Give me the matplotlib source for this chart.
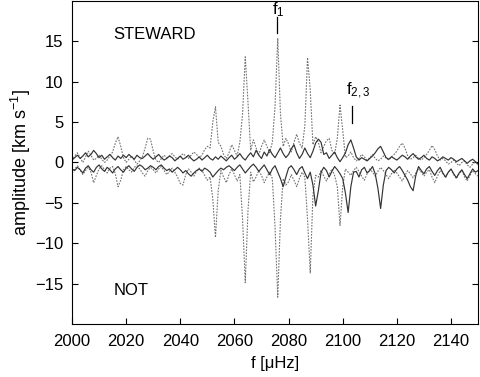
import numpy as np
import matplotlib
matplotlib.use("Agg")
import matplotlib.pyplot as plt

plt.rcParams["font.family"] = ["Liberation Sans", "DejaVu Sans"]
plt.rcParams["mathtext.default"] = "regular"

# frequency grid [uHz], 1 uHz steps
freq = np.arange(2000, 2151)

# STEWARD spectrum (solid, positive side)
steward_solid = [
    0.3, 0.6, 0.9, 0.5, 0.8, 1.2, 0.7, 1.0, 1.5, 1.1,
    0.6, 0.9, 0.4, 0.7, 1.0, 0.6, 0.3, 0.8, 0.5, 0.9,
    0.6, 1.0, 0.7, 0.4, 0.9, 0.6, 0.5, 0.8, 1.1, 0.7,
    0.4, 0.7, 1.0, 0.6, 0.3, 0.5, 0.8, 0.6, 0.2, 0.5,
    0.8, 0.4, 0.6, 0.9, 0.5, 0.2, 0.4, 0.7, 0.3, 0.6,
    0.9, 0.5, 0.3, 0.7, 0.4, 0.8, 0.5, 0.2, 0.6, 0.9,
    0.4, 0.7, 1.1, 0.6, 0.3, 0.8, 1.2, 0.7, 1.5, 0.9,
    0.5, 1.3, 0.8, 1.6, 1.0, 0.6, 1.2, 1.8, 1.1, 0.6,
    1.0, 1.7, 2.2, 1.2, 0.5, 1.0, 1.8, 1.1, 0.6, 1.4,
    2.4, 2.9, 2.5, 1.0, 1.2, 0.5, 0.9, 1.3, 0.6, 0.1,
    0.6, 1.2, 2.2, 2.8, 1.8, 0.7, 0.3, 0.6, 0.4, 0.2,
    0.5, 0.8, 1.2, 1.7, 2.0, 1.3, 0.6, 0.4, 0.7, 0.5,
    0.3, 0.6, 0.9, 0.7, 0.4, 0.8, 1.1, 0.7, 0.4, 0.6,
    0.9, 0.5, 0.3, 0.7, 0.5, 0.2, 0.4, 0.7, 0.5, 0.3,
    0.6, 0.4, 0.1, 0.3, 0.5, 0.2, -0.1, 0.2, 0.4, 0.1,
    -0.2,
]

# STEWARD window (dotted, positive side)
steward_dotted = [
    0.2, 0.8, 1.2, 0.6, 0.0, 0.7, 1.4, 0.9, 0.3, 0.5,
    0.9, 0.4, 0.0, 0.3, 0.8, 1.3, 2.4, 3.2, 2.0, 0.6,
    0.0, 0.4, 0.8, 0.3, -0.2, 0.2, 0.7, 1.8, 3.0, 2.9,
    1.4, 0.3, 0.0, 0.5, 0.9, 0.6, 0.8, 1.1, 0.7, 0.4,
    0.7, 1.1, 0.8, 0.5, 0.9, 1.3, 1.0, 0.6, 0.9, 1.6,
    2.0, 1.8, 5.0, 6.9, 2.5, 2.0, 1.0, 0.5, 1.2, 2.2,
    1.5, 0.8, 2.5, 6.0, 13.1, 7.5, 1.5, 2.8, 1.8, 1.0,
    2.0, 2.8, 2.0, 1.2, 2.5, 7.0, 15.4, 6.0, 2.0, 3.0,
    2.3, 1.3, 2.5, 3.5, 2.4, 1.8, 4.5, 13.0, 9.0, 2.2,
    3.2, 2.5, 1.2, 2.0, 2.7, 3.0, 1.5, 1.0, 3.0, 7.1,
    4.0, 0.6, 0.8, 1.3, 0.6, 0.2, 0.5, 1.0, 0.7, 0.3,
    0.6, 1.0, 0.5, 0.2, 0.4, 0.8, 0.6, 0.3, 0.7, 1.0,
    1.4, 2.0, 2.4, 1.8, 0.8, 0.4, 0.6, 0.9, 0.5, 0.3,
    0.6, 1.0, 1.5, 2.1, 1.6, 0.8, 0.3, 0.5, 0.2, -0.2,
    0.0, 0.3, -0.1, -0.4, 0.0, 0.2, -0.3, -0.6, -0.2, 0.1,
    -0.3,
]

# NOT spectrum (solid, mirrored to negative side)
not_solid = [
    -0.8, -1.0, -0.6, -0.9, -1.3, -0.7, -0.4, -0.9, -1.2, -0.6,
    -0.3, -0.8, -1.1, -0.6, -0.9, -1.3, -0.8, -0.5, -0.9, -1.2,
    -0.7, -0.4, -0.8, -1.1, -0.6, -0.3, -0.5, -0.9, -0.7, -0.4,
    -0.6, -0.9, -0.5, -0.3, -0.7, -1.0, -0.8, -1.2, -0.9, -0.6,
    -0.9, -1.3, -1.0, -1.4, -1.7, -1.3, -1.0, -0.8, -1.1, -0.7,
    -0.9, -1.2, -1.8, -1.4, -1.0, -0.7, -0.9, -0.6, -0.4, -0.7,
    -1.0, -0.6, -0.3, -0.8, -1.3, -0.9, -0.5, -0.2, -0.6, -1.1,
    -0.7, -0.3, -0.9, -1.5, -0.8, -0.4, -1.2, -2.0, -3.0, -1.8,
    -0.7, -0.4, -0.9, -1.5, -0.8, -0.5, -1.3, -2.0, -1.2, -2.8,
    -5.4, -3.5, -1.2, -0.6, -1.0, -1.8, -1.1, -0.5, -0.9, -1.4,
    -2.0, -3.8, -6.2, -3.0, -1.2, -1.1, -1.8, -0.9, -0.6, -1.3,
    -1.0, -0.5, -1.4, -3.2, -5.7, -2.8, -1.0, -0.6, -0.9, -1.3,
    -0.8, -0.5, -1.0, -1.6, -2.2, -3.0, -3.5, -1.6, -0.5, -1.0,
    -1.4, -0.8, -0.5, -1.1, -1.6, -1.0, -0.6, -1.3, -1.8, -1.2,
    -0.8, -1.4, -1.9, -1.3, -0.9, -1.5, -2.0, -1.4, -0.8, -1.2,
    -1.0,
]

# NOT window (dotted, mirrored to negative side)
not_dotted = [
    -1.3, -0.8, -0.4, -0.9, -1.5, -1.0, -0.6, -1.2, -2.5, -1.6,
    -0.8, -0.4, -0.9, -1.3, -0.7, -0.5, -1.4, -3.0, -2.2, -0.9,
    -0.5, -0.9, -1.2, -0.6, -0.4, -0.8, -1.3, -1.7, -1.0, -0.6,
    -0.9, -1.3, -0.8, -0.5, -1.0, -1.5, -1.1, -0.7, -1.2, -1.8,
    -2.6, -2.8, -1.5, -0.8, -1.2, -1.7, -1.1, -0.7, -1.0, -1.6,
    -2.2, -1.8, -4.5, -9.3, -3.5, -1.0, -1.8, -2.5, -1.5, -0.8,
    -1.5, -2.3, -1.5, -7.0, -14.9, -6.0, -1.2, -2.4, -1.8, -1.0,
    -1.6, -2.5, -1.8, -1.2, -2.0, -8.0, -16.7, -7.0, -2.0, -2.8,
    -2.4, -1.5, -2.2, -3.0, -2.0, -1.2, -1.8, -7.0, -13.7, -4.0,
    -1.6, -1.8, -1.0, -1.7, -2.3, -1.5, -0.8, -1.6, -3.0, -7.8,
    -3.0, -0.8, -1.2, -1.6, -1.0, -0.6, -1.1, -1.7, -2.2, -1.4,
    -0.8, -1.2, -1.7, -1.1, -0.6, -1.0, -1.5, -2.0, -1.4, -0.9,
    -1.3, -1.8, -2.3, -1.6, -1.0, -1.4, -1.9, -1.3, -0.8, -1.2,
    -1.7, -1.2, -0.9, -1.8, -2.5, -1.7, -1.0, -1.4, -1.9, -1.2,
    -0.9, -1.5, -2.0, -1.4, -1.0, -1.8, -2.3, -1.6, -1.0, -1.4,
    -1.7,
]

# identified frequencies: label, tick position, tick bottom/top, label x/y
marks = [
    ("f$_1$", 2075.6, 16.1, 18.0, 2074.0, 18.9),
    ("f$_{2,3}$", 2103.3, 4.9, 7.0, 2101.3, 8.9),
]

xticks = list(range(2000, 2141, 20))
yticks = [-15, -10, -5, 0, 5, 10, 15]

fig = plt.figure(figsize=(4.8, 3.77), dpi=100)
ax = fig.add_axes([0.15, 0.141, 0.846, 0.856])

dot_style = dict(color="0.45", lw=0.8, ls=(0, (1.5, 1.2)))
ax.plot(freq, steward_dotted, **dot_style)
ax.plot(freq, not_dotted, **dot_style)
ax.plot(freq, steward_solid, color="0.2", lw=0.85)
ax.plot(freq, not_solid, color="0.2", lw=0.85)

for label, f, lo, hi, tx, ty in marks:
    ax.plot([f, f], [lo, hi], color="black", lw=0.9)
    ax.text(tx, ty, label, ha="left", va="center", fontsize=12)

ax.text(2030.4, 15.9, "STEWARD", ha="center", va="center", fontsize=12)
ax.text(2021.7, -15.9, "NOT", ha="center", va="center", fontsize=12)

ax.set_xlim(2000, 2150)
ax.set_ylim(-20, 20)
ax.set_xticks(xticks)
ax.set_yticks(yticks)
ax.tick_params(direction="in", labelsize=12, length=4, right=True, top=False)
ax.tick_params(axis="x", pad=7)
ax.tick_params(axis="y", pad=6)
ax.set_xlabel("f [μHz]", fontsize=12, labelpad=5)
ax.set_ylabel("amplitude [km s$^{-1}$]", fontsize=13, labelpad=2)

fig.savefig("out.png", dpi=100)
